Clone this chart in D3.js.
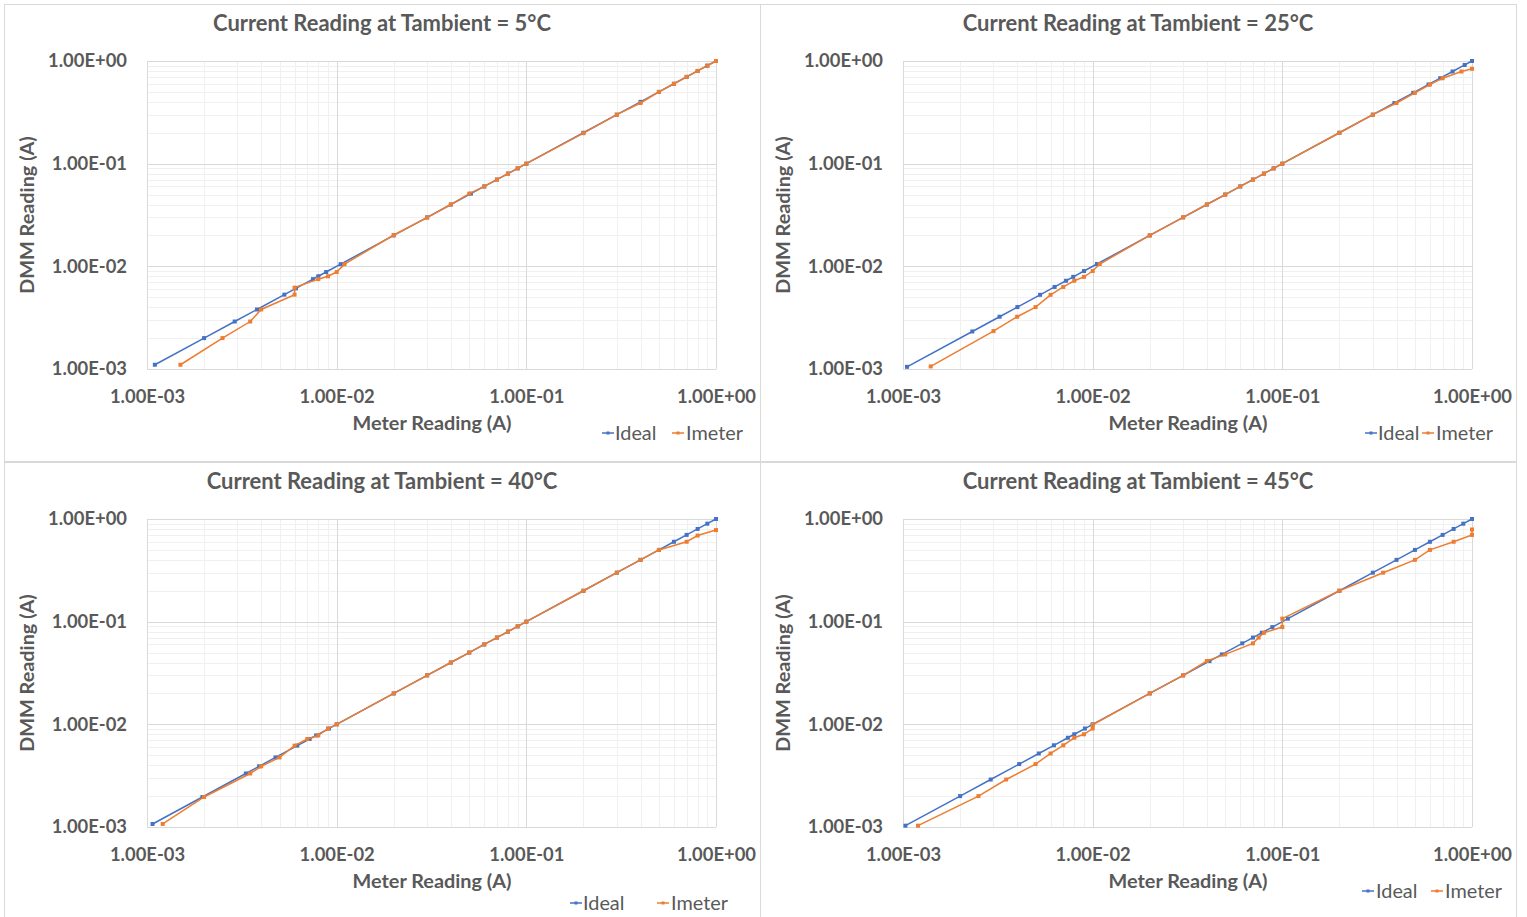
<!DOCTYPE html>
<html><head><meta charset="utf-8">
<script src="https://cdn.jsdelivr.net/npm/d3@7"></script>
<style>
body{margin:0;background:#fff}
svg{display:block}
text{font-family:Lato,'Liberation Sans',sans-serif;fill:#595959}
</style>
</head><body>
<svg id="c" width="1527" height="917"></svg>
<script>
// ---------- data ----------
const titles = [
  "Current Reading at Tambient = 5°C",
  "Current Reading at Tambient = 25°C",
  "Current Reading at Tambient = 40°C",
  "Current Reading at Tambient = 45°C"
];
const tickValues = [1e-3, 1e-2, 1e-1, 1];
const tickLabels = ["1.00E-03", "1.00E-02", "1.00E-01", "1.00E+00"];
const xTitle = "Meter Reading (A)";
const yTitle = "DMM Reading (A)";
const seriesNames = ["Ideal", "Imeter"];

// 5°C
const ideal5  = [0.0011,0.002,0.0029,0.0038,0.0053,0.0061,0.0075,0.008,0.0088,0.0105,0.02,0.03,0.04,0.051,0.06,0.07,0.08,0.09,0.1,0.2,0.3,0.4,0.5,0.6,0.7,0.8,0.9,1.0];
const meterX5 = [0.0015,0.0025,0.0035,0.004,0.006,0.006,0.008,0.009,0.010,0.011,0.02,0.03,0.04,0.05,0.06,0.07,0.08,0.09,0.1,0.2,0.3,0.4,0.5,0.6,0.7,0.8,0.9,1.0];
const meterY5 = [0.0011,0.002,0.0029,0.0038,0.0053,0.0062,0.0075,0.008,0.0088,0.0105,0.0202,0.0298,0.04,0.051,0.06,0.07,0.08,0.09,0.1,0.198,0.3,0.39,0.5,0.6,0.7,0.8,0.9,1.0];
// 25°C
const ideal25  = [0.00105,0.00232,0.00323,0.00401,0.00528,0.0063,0.00724,0.0079,0.009,0.01054,0.02,0.03,0.04,0.05,0.06,0.07,0.08,0.09,0.1,0.2,0.3,0.39,0.49,0.59,0.68,0.79,0.915,1.0];
const meterX25 = [0.0014,0.003,0.004,0.005,0.006,0.007,0.008,0.009,0.010,0.0109,0.02,0.03,0.04,0.05,0.06,0.07,0.08,0.09,0.1,0.2,0.3,0.4,0.5,0.6,0.7,0.88,1.0];
const meterY25 = [0.00106,0.00234,0.00323,0.00401,0.00528,0.0063,0.00724,0.0079,0.009,0.01054,0.02,0.03,0.04,0.05,0.06,0.07,0.08,0.09,0.1,0.2,0.3,0.39,0.49,0.59,0.68,0.79,0.84];
// 40°C
const ideal40  = [0.00107,0.00196,0.00332,0.0039,0.00476,0.0062,0.0072,0.0078,0.0091,0.01,0.02,0.03,0.04,0.05,0.06,0.07,0.08,0.09,0.1,0.2,0.3,0.4,0.5,0.6,0.7,0.8,0.9,1.0];
const meterX40 = [0.00121,0.002,0.0035,0.004,0.005,0.006,0.007,0.008,0.009,0.01,0.02,0.03,0.04,0.05,0.06,0.07,0.08,0.09,0.1,0.2,0.3,0.4,0.5,0.7,0.8,1.0];
const meterY40 = [0.00107,0.00196,0.00332,0.0039,0.00476,0.0062,0.0072,0.0078,0.0091,0.01,0.02,0.03,0.04,0.05,0.06,0.07,0.08,0.09,0.1,0.2,0.3,0.4,0.5,0.6,0.69,0.78];
// 45°C
const ideal45  = [0.00103,0.002,0.0029,0.0041,0.0052,0.00625,0.0074,0.008,0.0091,0.01,0.02,0.03,0.0413,0.048,0.0615,0.07,0.078,0.0886,0.107,0.2,0.3,0.4,0.5,0.6,0.7,0.8,0.9,1.0];
const meterX45 = [0.0012,0.0025,0.0035,0.005,0.006,0.007,0.008,0.009,0.01,0.01,0.02,0.03,0.04,0.05,0.07,0.075,0.08,0.1,0.1,0.2,0.34,0.5,0.6,0.8,1.0,1.0];
const meterY45 = [0.00103,0.002,0.0029,0.0041,0.0052,0.00625,0.0074,0.008,0.0091,0.0099,0.02,0.03,0.0414,0.048,0.0615,0.07,0.078,0.0886,0.107,0.2,0.3,0.4,0.5,0.6,0.7,0.79];

const idealSets = [ideal5, ideal25, ideal40, ideal45];
const meterXSets = [meterX5, meterX25, meterX40, meterX45];
const meterYSets = [meterY5, meterY25, meterY40, meterY45];

// ---------- layout ----------
const colors = ["#4472C4", "#ED7D31"];
const panels = [
  {ox:0, oy:0, leg:[608,615,678,686,433]},
  {ox:756, oy:0, leg:[1371,1378,1428,1436,433]},
  {ox:0, oy:458, leg:[576,583,663,671,903]},
  {ox:756, oy:458, leg:[1368,1376,1437,1445,891]}
];
const svg = d3.select("#c");

// fit font size so that sample string gets target width
function fitSize(sample, weight, target, base){
  const t = svg.append("text").attr("font-size", base).attr("font-weight", weight).text(sample);
  const w = t.node().getComputedTextLength();
  t.remove();
  return base * target / w;
}
const titleSize = fitSize(titles[0], "bold", 338, 20);
const tickSize = fitSize("1.00E+00", "bold", 79, 17);
const axTitleSize = fitSize(xTitle, "bold", 159, 18);
const legSize = fitSize("Imeter", "normal", 57, 18);

panels.forEach((p, i) => {
  const g = svg.append("g");
  // frame
  g.append("rect").attr("x", 4.5 + p.ox).attr("y", 4.5 + p.oy)
    .attr("width", 756).attr("height", 457)
    .attr("fill", "#fff").attr("stroke", "#d9d9d9").attr("stroke-width", 1);

  const x = d3.scaleLog().domain([1e-3, 1]).range([147 + p.ox, 716 + p.ox]);
  const y = d3.scaleLog().domain([1e-3, 1]).range([369 + p.oy, 61 + p.oy]);

  // minor grid
  const minor = [];
  [1e-3, 1e-2, 1e-1].forEach(d => { for (let m = 2; m <= 9; m++) minor.push(d * m); });
  g.append("g").selectAll("line").data(minor).join("line")
    .attr("x1", d => Math.round(x(d)) + 0.5).attr("x2", d => Math.round(x(d)) + 0.5)
    .attr("y1", y(1)).attr("y2", y(1e-3)).attr("stroke", "#f0f0f0");
  g.append("g").selectAll("line").data(minor).join("line")
    .attr("y1", d => Math.round(y(d)) + 0.5).attr("y2", d => Math.round(y(d)) + 0.5)
    .attr("x1", x(1e-3)).attr("x2", x(1)).attr("stroke", "#f0f0f0");
  // major grid
  g.append("g").selectAll("line").data(tickValues).join("line")
    .attr("x1", d => Math.round(x(d)) + 0.5).attr("x2", d => Math.round(x(d)) + 0.5)
    .attr("y1", y(1)).attr("y2", y(1e-3)).attr("stroke", "#d9d9d9");
  g.append("g").selectAll("line").data(tickValues).join("line")
    .attr("y1", d => Math.round(y(d)) + 0.5).attr("y2", d => Math.round(y(d)) + 0.5)
    .attr("x1", x(1e-3)).attr("x2", x(1)).attr("stroke", "#d9d9d9");

  // axes
  const fmt = d => tickLabels[tickValues.indexOf(d)];
  const xa = g.append("g").attr("transform", `translate(0,${369 + p.oy})`)
    .call(d3.axisBottom(x).tickValues(tickValues).tickFormat(fmt).tickSize(0).tickPadding(21));
  const ya = g.append("g").attr("transform", `translate(${147 + p.ox},0)`)
    .call(d3.axisLeft(y).tickValues(tickValues).tickFormat(fmt).tickSize(0).tickPadding(20));
  [xa, ya].forEach(a => {
    a.select(".domain").remove();
    a.selectAll("text").attr("font-family", null).attr("font-size", tickSize)
      .attr("font-weight", "bold").style("fill", "#595959");
  });

  // titles
  g.append("text").attr("x", 382 + p.ox).attr("y", 31 + p.oy).attr("text-anchor", "middle")
    .attr("font-weight", "bold").attr("font-size", titleSize).text(titles[i]);
  g.append("text").attr("x", 432 + p.ox).attr("y", 430 + p.oy).attr("text-anchor", "middle")
    .attr("font-weight", "bold").attr("font-size", axTitleSize).text(xTitle);
  g.append("text").attr("transform", `translate(${34 + p.ox},${215 + p.oy}) rotate(-90)`)
    .attr("text-anchor", "middle").attr("font-weight", "bold").attr("font-size", axTitleSize).text(yTitle);

  // series
  const idealPts = idealSets[i].map(v => [v, v]);
  const meterPts = meterXSets[i].map((v, k) => [v, meterYSets[i][k]]);
  const line = d3.line().x(d => x(d[0])).y(d => y(d[1]));
  [idealPts, meterPts].forEach((pts, s) => {
    g.append("path").datum(pts).attr("d", line).attr("fill", "none")
      .attr("stroke", colors[s]).attr("stroke-width", 1.5);
    g.append("g").selectAll("rect").data(pts).join("rect")
      .attr("x", d => x(d[0]) - 2).attr("y", d => y(d[1]) - 2)
      .attr("width", 4).attr("height", 4).attr("fill", colors[s]);
  });

  // legend
  const L = p.leg;
  [[L[0], L[1]], [L[2], L[3]]].forEach((pos, s) => {
    g.append("line").attr("x1", pos[0] - 6).attr("x2", pos[0] + 6)
      .attr("y1", L[4]).attr("y2", L[4]).attr("stroke", colors[s]).attr("stroke-width", 1.5);
    g.append("rect").attr("x", pos[0] - 1.5).attr("y", L[4] - 1.5).attr("width", 3).attr("height", 3).attr("fill", colors[s]);
    g.append("text").attr("x", pos[1]).attr("y", L[4] + 6.5).attr("font-size", legSize).text(seriesNames[s]);
  });
});
</script>
</body></html>
